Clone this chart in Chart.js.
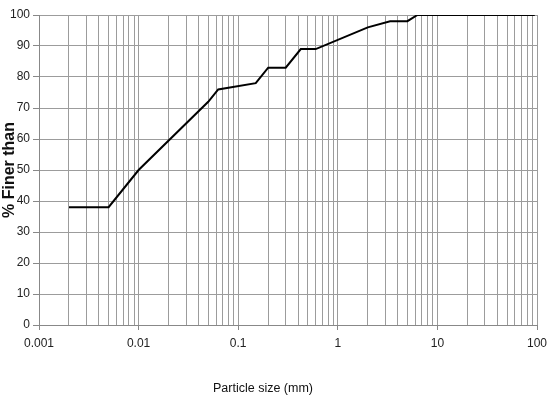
<!DOCTYPE html>
<html>
<head>
<meta charset="utf-8">
<script src="https://cdn.jsdelivr.net/npm/chart.js@4/dist/chart.umd.min.js"></script>
<style>
  html, body { margin: 0; padding: 0; background: #fff; }
  canvas { display: block; }
</style>
</head>
<body>
<canvas id="chart" width="550" height="401"></canvas>
<script>
// grading curve
var particleSizes = [0.002, 0.005, 0.01, 0.05, 0.063, 0.15, 0.2, 0.3, 0.425, 0.6, 2, 3.35, 5, 6.3, 95];
var percentFiner  = [38, 38, 50, 72, 76, 78, 83, 83, 89, 89, 96, 98, 98, 100, 100];

var decadeLabels = ['0.001', '0.01', '0.1', '1', '10', '100'];
var yMin = 0, yMax = 100, yStep = 10;

var narrow = "'Liberation Sans Narrow', 'Arial Narrow', 'Liberation Sans', Arial, sans-serif";
var gridColor = '#9c9c9c';

// 1..9 x each decade, for the log grid
function logGridValues() {
  var vals = [];
  for (var d = 0; d < decadeLabels.length; d++) {
    var base = parseFloat(decadeLabels[d]);
    if (d === decadeLabels.length - 1) { vals.push(base); break; }
    for (var m = 1; m < 10; m++) vals.push(+(base * m).toPrecision(3));
  }
  return vals;
}

function isDecade(v) {
  var l = Math.log10(v);
  return Math.abs(l - Math.round(l)) < 1e-6;
}

var xTitle = {
  id: 'xTitle',
  afterDraw: function(chart) {
    var ctx = chart.ctx;
    ctx.save();
    ctx.font = '12.5px ' + narrow;
    ctx.fillStyle = '#111';
    ctx.textAlign = 'center';
    ctx.textBaseline = 'middle';
    ctx.fillText('Particle size (mm)', 263, 389);
    ctx.restore();
  }
};

var points = particleSizes.map(function(s, i) { return { x: s, y: percentFiner[i] }; });

var chart = new Chart(document.getElementById('chart'), {
  type: 'line',
  data: {
    datasets: [{
      label: '% Finer than',
      data: points,
      borderColor: '#000',
      borderWidth: 2,
      pointRadius: 0,
      tension: 0,
      fill: false
    }]
  },
  options: {
    responsive: false,
    animation: false,
    layout: { padding: { top: 15, right: 13, left: 0, bottom: 0 } },
    plugins: { legend: { display: false }, tooltip: { enabled: false } },
    scales: {
      x: {
        type: 'logarithmic',
        min: 0.001,
        max: 100,
        afterBuildTicks: function(scale) {
          scale.ticks = logGridValues().map(function(v) { return { value: v }; });
        },
        afterFit: function(scale) {
          scale.height = 76;
          scale.paddingLeft = 0;
          scale.paddingRight = 13;
        },
        ticks: {
          autoSkip: false,
          maxRotation: 0,
          padding: 6,
          color: '#222',
          font: { family: narrow, size: 12 },
          callback: function(value) {
            if (!isDecade(value)) return '';
            return decadeLabels[Math.round(Math.log10(value)) + 3];
          }
        },
        grid: {
          color: gridColor,
          lineWidth: 1,
          tickLength: 5,
          tickColor: function(ctx) {
            return ctx.tick && isDecade(ctx.tick.value) ? '#888' : 'rgba(0,0,0,0)';
          }
        },
        border: { color: '#888' }
      },
      y: {
        min: yMin,
        max: yMax,
        afterFit: function(scale) { scale.width = 39; },
        ticks: {
          stepSize: yStep,
          padding: 3,
          color: '#222',
          font: { family: narrow, size: 12 }
        },
        grid: { color: gridColor, lineWidth: 1, tickLength: 6, tickColor: '#888' },
        border: { color: '#888' },
        title: {
          display: true,
          text: '% Finer than',
          color: '#111',
          padding: 0,
          font: { family: "'Liberation Sans', Arial, sans-serif", size: 16, weight: 'bold' }
        }
      }
    }
  },
  plugins: [xTitle]
});
</script>
</body>
</html>
